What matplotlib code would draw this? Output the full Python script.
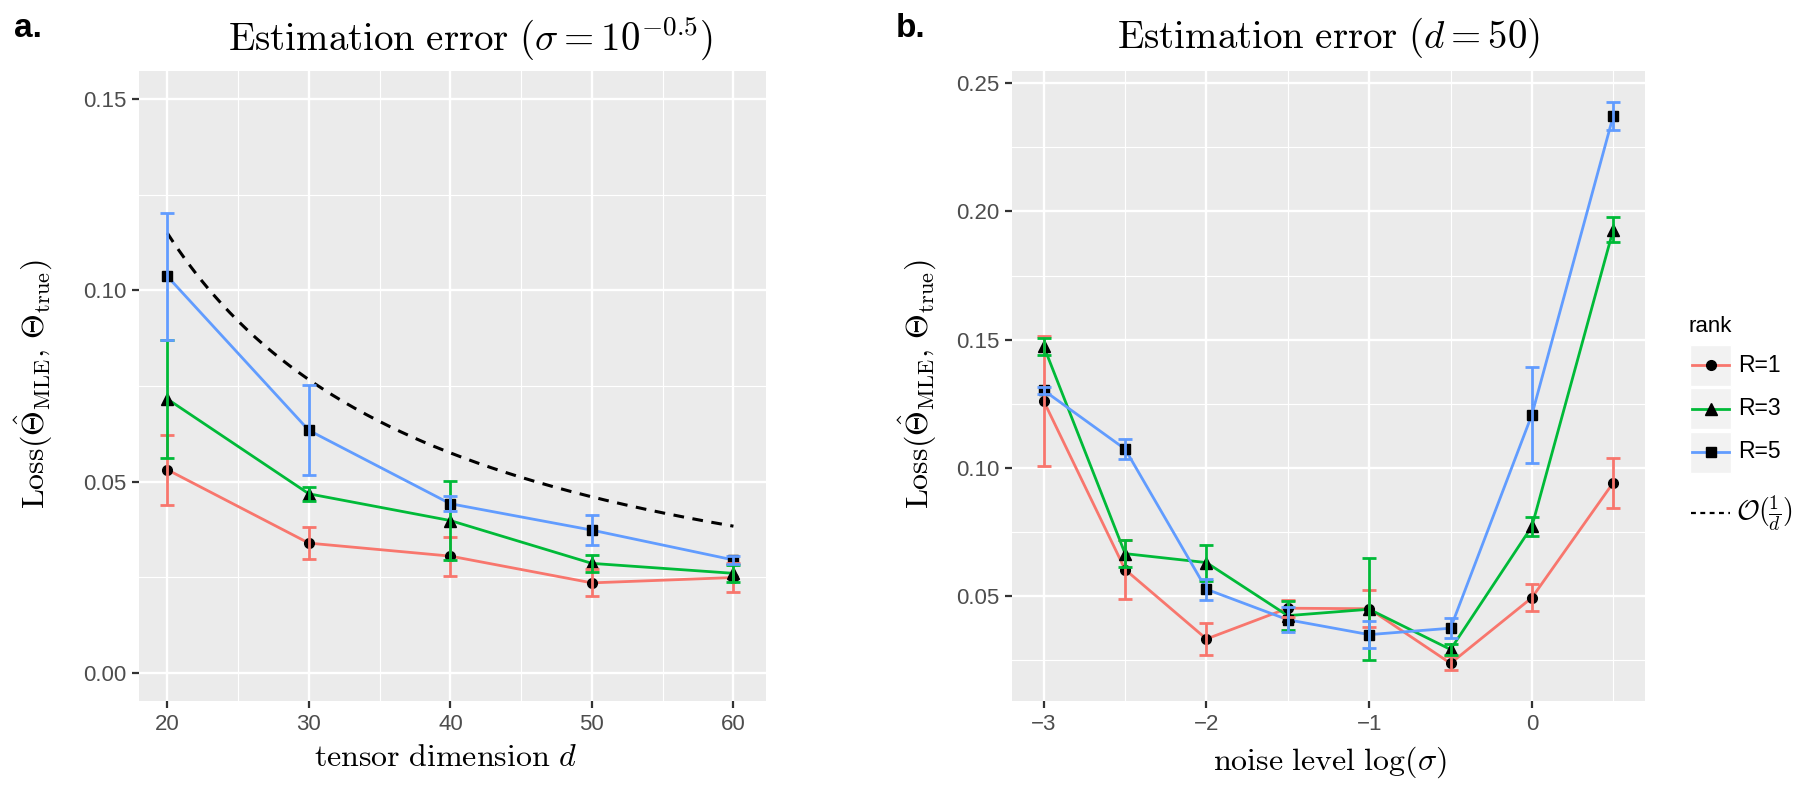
import numpy as np
import matplotlib
matplotlib.use('Agg')
import matplotlib.pyplot as plt
from matplotlib.lines import Line2D
from matplotlib.patches import Rectangle

plt.rcParams['font.family'] = ['Liberation Sans', 'DejaVu Sans']
plt.rcParams['mathtext.fontset'] = 'cm'

# panel a: error vs tensor dimension
dims = [20, 30, 40, 50, 60]
dim_r1 = [0.0531, 0.0339, 0.0305, 0.0235, 0.0249]
dim_r1_err = [0.0092, 0.0041, 0.0051, 0.0035, 0.0037]
dim_r3 = [0.0716, 0.0468, 0.0398, 0.0286, 0.0260]
dim_r3_err = [0.0155, 0.0019, 0.0103, 0.0022, 0.0023]
dim_r5 = [0.1037, 0.0634, 0.0442, 0.0373, 0.0295]
dim_r5_err = [0.0166, 0.0118, 0.0020, 0.0040, 0.0010]
bound_scale = 2.3  # O(1/d) reference curve, c/d

# panel b: error vs noise level
noise = [-3, -2.5, -2, -1.5, -1, -0.5, 0, 0.5]
noise_r1 = [0.1260, 0.0603, 0.0332, 0.0452, 0.0450, 0.0237, 0.0493, 0.0942]
noise_r1_err = [0.0255, 0.0115, 0.0061, 0.0034, 0.0073, 0.0027, 0.0053, 0.0098]
noise_r3 = [0.1474, 0.0665, 0.0630, 0.0423, 0.0448, 0.0291, 0.0771, 0.1929]
noise_r3_err = [0.0033, 0.0054, 0.0070, 0.0057, 0.0199, 0.0021, 0.0036, 0.0050]
noise_r5 = [0.1302, 0.1073, 0.0526, 0.0407, 0.0349, 0.0374, 0.1207, 0.2373]
noise_r5_err = [0.0013, 0.0039, 0.0040, 0.0048, 0.0052, 0.0039, 0.0188, 0.0055]

ranks = ['R=1', 'R=3', 'R=5']
colors = ['#F8766D', '#00BA38', '#619CFF']
markers = ['o', '^', 's']
msizes = [7, 8.5, 7]

W, H = 1800, 786
def fx(px):
    return px / W
def fy(py):
    return 1 - py / H

fig = plt.figure(figsize=(18, 7.86), dpi=100)
axL = fig.add_axes([fx(139), fy(701), (766 - 139) / W, 630 / H])
axR = fig.add_axes([fx(1012), fy(701), (1645 - 1012) / W, 630 / H])

def style_panel(ax):
    ax.set_facecolor('#EBEBEB')
    for s in ax.spines.values():
        s.set_visible(False)
    ax.grid(which='major', color='white', lw=1.7)
    ax.grid(which='minor', color='white', lw=0.8)
    ax.set_axisbelow(True)
    ax.tick_params(which='major', length=5, width=1.6, color='#333333',
                   labelcolor='#4D4D4D', labelsize=16, pad=4)
    ax.tick_params(which='minor', length=0)

def draw_series(ax, x, means, errs):
    for mean, err, col, mk, ms in zip(means, errs, colors, markers, msizes):
        ax.plot(x, mean, color=col, lw=2, zorder=2)
        ax.plot(x, mean, ls='none', marker=mk, color='black', ms=ms, zorder=3)
        ax.errorbar(x, mean, yerr=err, fmt='none', ecolor=col, elinewidth=2,
                    capsize=5, capthick=2, zorder=4)

ylab = r'$\mathrm{Loss}(\hat{\Theta}_{\mathrm{MLE}},\,\Theta_{\mathrm{true}})$'

# ---- panel a
style_panel(axL)
draw_series(axL, dims, [dim_r1, dim_r3, dim_r5], [dim_r1_err, dim_r3_err, dim_r5_err])
d_grid = np.linspace(dims[0], dims[-1], 200)
axL.plot(d_grid, bound_scale / d_grid, color='black', lw=2.2, dashes=(3.5, 2.8), zorder=2)
axL.set_xlim(18, 62.3)
axL.set_ylim(-0.0074, 0.1574)
axL.set_xticks(dims)
axL.set_xticks([25, 35, 45, 55], minor=True)
axL.set_yticks([0.00, 0.05, 0.10, 0.15])
axL.set_yticklabels(['0.00', '0.05', '0.10', '0.15'])
axL.set_yticks([0.025, 0.075, 0.125], minor=True)

# ---- panel b
style_panel(axR)
draw_series(axR, noise, [noise_r1, noise_r3, noise_r5],
            [noise_r1_err, noise_r3_err, noise_r5_err])
axR.set_xlim(-3.195, 0.695)
axR.set_ylim(0.009, 0.2548)
axR.set_xticks([-3, -2, -1, 0])
axR.set_xticklabels(['\u22123', '\u22122', '\u22121', '0'])
axR.set_xticks([-2.5, -1.5, -0.5, 0.5], minor=True)
axR.set_yticks([0.05, 0.10, 0.15, 0.20, 0.25])
axR.set_yticklabels(['0.05', '0.10', '0.15', '0.20', '0.25'])
axR.set_yticks([0.025, 0.075, 0.125, 0.175, 0.225], minor=True)

# titles, axis labels
fig.text(fx(14), fy(37), 'a.', fontsize=24, fontweight='bold', va='baseline')
fig.text(fx(896), fy(37), 'b.', fontsize=24, fontweight='bold', va='baseline')
fig.text(fx(470), fy(38), r'$\mathrm{Estimation\ error}\ (\sigma = 10^{-0.5})$',
         fontsize=28, ha='center', va='center')
fig.text(fx(1328), fy(38), r'$\mathrm{Estimation\ error}\ (d = 50)$',
         fontsize=28, ha='center', va='center')
fig.text(fx(445), fy(758), r'$\mathrm{tensor\ dimension}\ d$', fontsize=23,
         ha='center', va='center')
fig.text(fx(1330), fy(762), r'$\mathrm{noise\ level}\ \log(\sigma)$', fontsize=23,
         ha='center', va='center')
fig.text(fx(34), fy(384), ylab, fontsize=23, rotation=90, ha='center', va='center')
fig.text(fx(918), fy(384), ylab, fontsize=23, rotation=90, ha='center', va='center')

# legend, drawn ggplot style
fig.text(fx(1688), fy(327), 'rank', fontsize=16, va='center', color='black')
key_y = [365, 408.5, 452]
for yc, lab, col, mk, ms in zip(key_y, ranks, colors, markers, msizes):
    fig.add_artist(Rectangle((fx(1690), fy(yc + 20.5)), 41 / W, 41 / H,
                             transform=fig.transFigure, facecolor='#F2F2F2',
                             edgecolor='white', lw=1))
    fig.add_artist(Line2D([fx(1692), fx(1729)], [fy(yc), fy(yc)],
                          transform=fig.transFigure, color=col, lw=2))
    fig.add_artist(Line2D([fx(1710.5)], [fy(yc)], transform=fig.transFigure,
                          marker=mk, color='black', ms=ms, ls='none'))
    fig.text(fx(1738), fy(yc), lab, fontsize=16.5, va='center', color='black')

fig.add_artist(Line2D([fx(1691), fx(1730)], [fy(513), fy(513)],
                      transform=fig.transFigure, color='black', lw=1.6,
                      dashes=(2.2, 2)))
fig.text(fx(1736), fy(513), r'$\mathcal{O}(\frac{1}{d})$', fontsize=20, va='center')

fig.savefig('out.png', dpi=100, facecolor='white')
